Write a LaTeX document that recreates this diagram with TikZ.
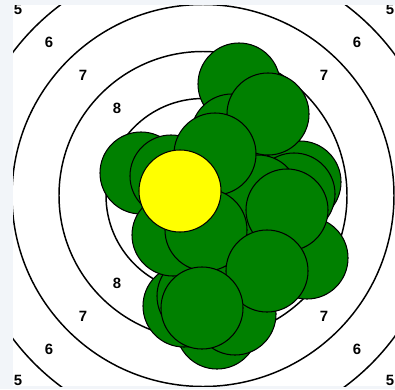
\documentclass[tikz,border=0pt]{standalone}
\usepackage{fontspec}
\setsansfont{Liberation Sans}
\definecolor{paper}{RGB}{242,245,249}
\definecolor{hitgreen}{RGB}{0,128,0}
\definecolor{lasthit}{RGB}{255,255,0}
\usepackage{tikz}
\begin{document}
\begin{tikzpicture}[
  x=0.025cm, y=-0.025cm,
  ring/.style={draw=black, line width=1.05pt},
  score/.style={font=\sffamily\bfseries\fontsize{10.6}{12}\selectfont, inner sep=0pt},
  hit/.style={circle, draw=black, line width=0.75pt, fill=#1, minimum size=2.05cm, inner sep=0pt},
]
  \useasboundingbox (0,0) rectangle (395,389);
  \fill[paper] (0,0) rectangle (395,389);
  \fill[white] (13,5) rectangle (395,386);

  \begin{scope}
    \clip (13,5) rectangle (395,386);
    % Target rings
    \coordinate (c) at (203,195.5);
    \foreach \r in {97,144,191,238} {
      \draw[ring] (c) circle[radius=\r];
    }

    % Ring scores
    \node[score] (s5a) at (18,9) {5};
    \node[score] (s5b) at (390,9) {5};
    \node[score] (s5c) at (18,380) {5};
    \node[score] (s5d) at (390,380) {5};
    \node[score] (s6a) at (49,42) {6};
    \node[score] (s6b) at (357,42) {6};
    \node[score] (s6c) at (49,349) {6};
    \node[score] (s6d) at (357,349) {6};
    \node[score] (s7a) at (83,75) {7};
    \node[score] (s7b) at (324,75) {7};
    \node[score] (s7c) at (83,316) {7};
    \node[score] (s7d) at (324,316) {7};
    \node[score] (s8a) at (117,108) {8};
    \node[score] (s8c) at (117,283) {8};
  \end{scope}

  % Hits
  \foreach \x/\y [count=\i] in {217/328, 235/314, 184/306, 198/296, 239/84, 232/135,
      300/182, 294/194, 307/258, 258/196, 268/114, 141/173, 171/176, 215/154,
      173/235, 206/230, 287/210, 267/271, 202/308} {
    \node[hit=hitgreen] (hit\i) at (\x,\y) {};
  }
  \node[hit=lasthit] (last) at (180,191) {};
\end{tikzpicture}
\end{document}
